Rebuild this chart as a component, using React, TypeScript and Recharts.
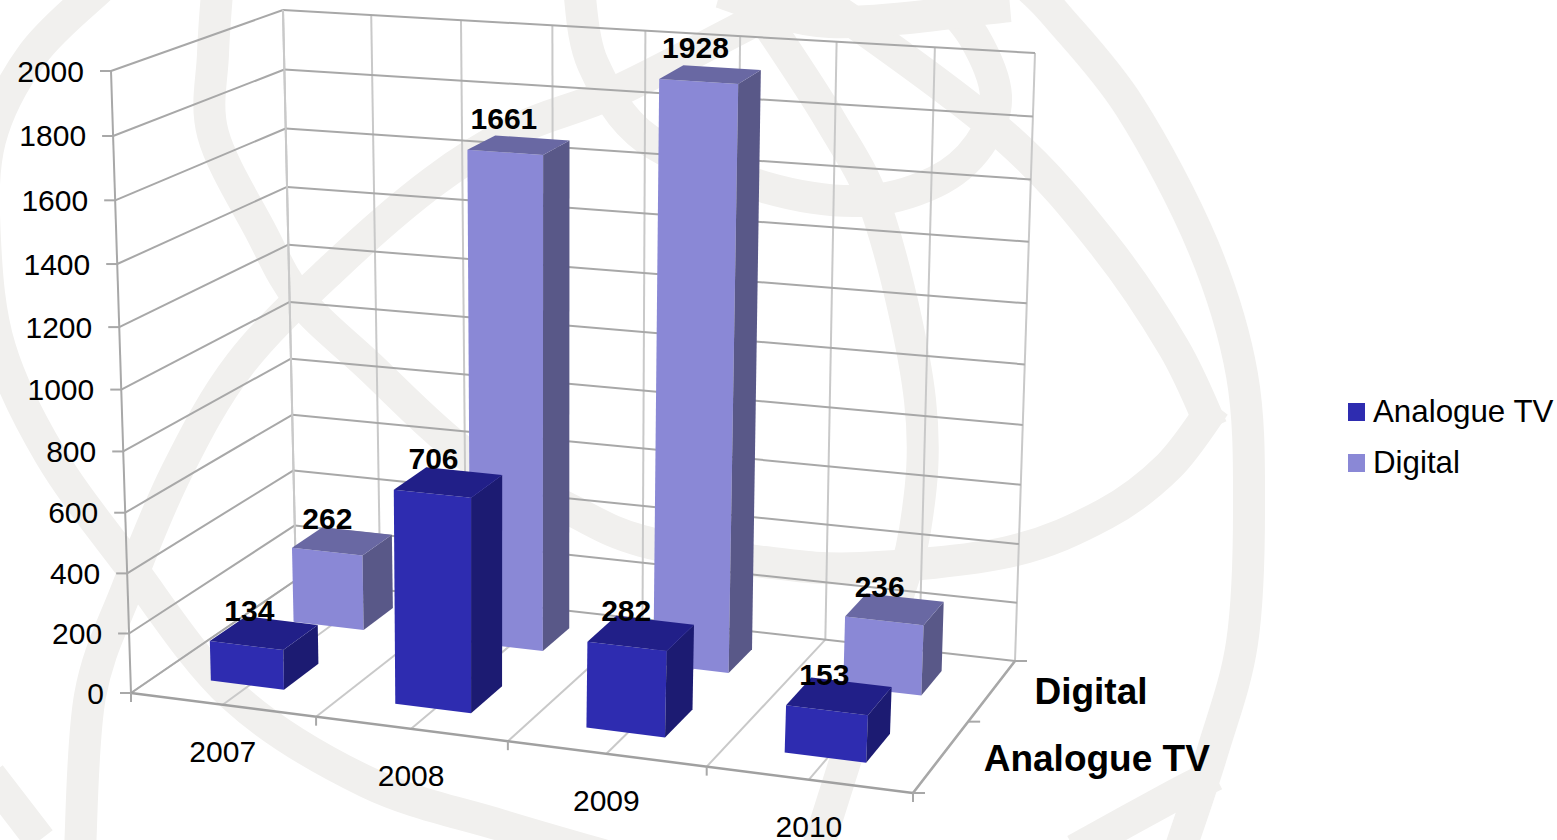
import { BarChart, Bar, XAxis, YAxis, Legend, Customized } from "recharts";

const YEARS = ["2007", "2008", "2009", "2010"];
const ANALOGUE = [134, 706, 282, 153];
const DIGITAL = [262, 1661, 1928, 236];
const Y_TICKS = [0, 200, 400, 600, 800, 1000, 1200, 1400, 1600, 1800, 2000];
const Y_MAX = 2000;

const rows = YEARS.map((year, i) => ({ year, analogue: ANALOGUE[i], digital: DIGITAL[i] }));

const W = 1557;
const H = 840;
const FONT = "'Liberation Sans', Arial, sans-serif";

// corners of the 3D box on screen: front-left, front-right, back-left, back-right
const FLOOR = [[131, 693], [913, 793], [296, 580], [1015, 661]];
const ROOF = [[111, 71], [943, 130], [283, 10], [1035, 53]];

const warp = (t: number, c: number) => t / (t + c * (1 - t));

// u = along the years, v = up the value axis, w = into the depth
function project(u: number, v: number, w: number): [number, number] {
  const su = warp(u, 1.075);
  const sv = warp(v, 1.05);
  const sw = warp(w, 0.85);
  const plane = (q: number[][], k: number) =>
    (q[0][k] * (1 - su) + q[1][k] * su) * (1 - sw) + (q[2][k] * (1 - su) + q[3][k] * su) * sw;
  return [
    plane(FLOOR, 0) * (1 - sv) + plane(ROOF, 0) * sv,
    plane(FLOOR, 1) * (1 - sv) + plane(ROOF, 1) * sv,
  ];
}

const poly = (pts: [number, number][]) => pts.map((p) => p.join(",")).join(" ");

function Seg({ a, b, color, sw = 2 }: any) {
  return <line x1={a[0]} y1={a[1]} x2={b[0]} y2={b[1]} stroke={color} strokeWidth={sw} />;
}

function Walls() {
  const divisions = Array.from({ length: YEARS.length * 2 + 1 }, (_, i) => i / (YEARS.length * 2));
  const grey = "#a8a8a8";
  const light = "#c9c9c9";
  return (
    <g>
      {divisions.map((u) => (
        <g key={u}>
          <Seg a={project(u, 0, 0)} b={project(u, 0, 1)} color={light} />
          <Seg a={project(u, 0, 1)} b={project(u, 1, 1)} color={light} />
        </g>
      ))}
      {Y_TICKS.map((t) => {
        const v = t / Y_MAX;
        return (
          <g key={t}>
            <Seg a={project(0, v, 0)} b={project(0, v, 1)} color={grey} />
            <Seg a={project(0, v, 1)} b={project(1, v, 1)} color={grey} />
          </g>
        );
      })}
      <Seg a={project(0, 0, 0)} b={project(0, 1, 0)} color={grey} />
      <Seg a={project(0, 0, 1)} b={project(0, 1, 1)} color={light} />
      <Seg a={project(0, 0, 0)} b={project(1, 0, 0)} color="#a0a0a0" sw={2.5} />
      <Seg a={project(1, 0, 0)} b={project(1, 0, 1)} color="#a8a8a8" sw={2.5} />
      {[0, 0.25, 0.5, 0.75, 1].map((u) => {
        const p = project(u, 0, 0);
        return <Seg key={u} a={p} b={[p[0], p[1] + 9]} color={grey} />;
      })}
      {[0, 0.5, 1].map((w) => {
        const p = project(1, 0, w);
        return <Seg key={w} a={p} b={[p[0] + 12, p[1]]} color={grey} />;
      })}
      <text x={project(1, 0, 0.75)[0] + 42} y={project(1, 0, 0.75)[1] + 1} dominantBaseline="central"
        fontFamily={FONT} fontWeight="bold" fontSize={37} fill="#000">Digital</text>
      <text x={project(1, 0, 0.25)[0] + 42} y={project(1, 0, 0.25)[1] + 3} dominantBaseline="central"
        fontFamily={FONT} fontWeight="bold" fontSize={37} fill="#000">Analogue TV</text>
    </g>
  );
}

function YTick({ y, payload }: any) {
  const v = 1 - y / H;
  const p = project(0, v, 0);
  return (
    <g>
      <line x1={p[0] - 11} y1={p[1]} x2={p[0]} y2={p[1]} stroke="#a8a8a8" strokeWidth={2} />
      <text x={p[0] - 27} y={p[1]} textAnchor="end" dominantBaseline="central" fontFamily={FONT} fontSize={30} fill="#000">
        {payload.value}
      </text>
    </g>
  );
}

function XTick({ x, payload }: any) {
  const p = project(x / W, 0, 0);
  return (
    <text x={p[0]} y={p[1] + 47} textAnchor="middle" dominantBaseline="central" fontFamily={FONT} fontSize={30} fill="#000">
      {payload.value}
    </text>
  );
}

// one 3D column, w0..w1 is the slice of the depth axis the series sits in
const makeBox = (w0: number, w1: number, topColor: string, sideColor: string) => (props: any) => {
  const { x, y, width, fill, value } = props;
  const u0 = x / W - 0.003;
  const u1 = (x + width) / W - 0.003;
  const v = 1 - y / H;
  const top = [project(u0, v, w0), project(u1, v, w0), project(u1, v, w1), project(u0, v, w1)] as [number, number][];
  const lab = project((u0 + u1) / 2, v, (w0 + w1) / 2);
  return (
    <g>
      <polygon fill={fill} points={poly([project(u0, 0, w0), project(u1, 0, w0), top[1], top[0]])} />
      <polygon fill={sideColor} points={poly([project(u1, 0, w0), project(u1, 0, w1), top[2], top[1]])} />
      <polygon fill={topColor} points={poly(top)} />
      <text x={lab[0] - 15} y={lab[1] - 21.5 - 6 * v} textAnchor="middle" dominantBaseline="central"
        fontFamily={FONT} fontWeight="bold" fontSize={30} fill="#000">
        {value}
      </text>
    </g>
  );
};

function LegendBox({ payload }: any) {
  const items = [...(payload ?? [])].sort((a: any, b: any) => (a.value < b.value ? -1 : 1));
  return (
    <div style={{ position: "absolute", left: 1348, top: 386, fontFamily: FONT, fontSize: 31.3, color: "#000", whiteSpace: "nowrap" }}>
      {items.map((it: any) => (
        <div key={it.value} style={{ display: "flex", alignItems: "center", height: 51 }}>
          <span style={{ width: 17, height: 18, background: it.color, marginRight: 8 }} />
          {it.value}
        </div>
      ))}
    </div>
  );
}

// smooth curve through a hand traced run of points, only for the faint backdrop
function smooth(pts: number[][]) {
  let d = `M ${pts[0][0]} ${pts[0][1]}`;
  for (let i = 0; i < pts.length - 1; i++) {
    const p0 = pts[Math.max(i - 1, 0)];
    const p1 = pts[i];
    const p2 = pts[i + 1];
    const p3 = pts[Math.min(i + 2, pts.length - 1)];
    d += ` C ${p1[0] + (p2[0] - p0[0]) / 6} ${p1[1] + (p2[1] - p0[1]) / 6} ${p2[0] - (p3[0] - p1[0]) / 6} ${p2[1] - (p3[1] - p1[1]) / 6} ${p2[0]} ${p2[1]}`;
  }
  return d;
}

const BANDS = [
  [[218, -20], [213, 54], [213, 134], [260, 230], [300, 300], [367, 364], [467, 455], [569, 509], [642, 541], [764, 562], [861, 568], [1008, 552], [1105, 514], [1169, 466], [1215, 405]],
  [[80, 850], [90, 696], [127, 589], [177, 471], [240, 364], [333, 268], [433, 182], [520, 128], [617, 91], [764, 16], [830, -15]],
  [[100, -12], [33, 54], [-10, 140], [-15, 240], [0, 348], [50, 455], [127, 562], [233, 696], [367, 782], [500, 825], [620, 860]],
  [[-10, 775], [40, 840]],
  [[579, -10], [593, 64], [647, 139], [764, 187], [861, 201], [935, 182], [979, 145], [996, 96], [974, 37], [935, -10]],
  [[745, -10], [830, 120], [880, 220], [920, 400], [915, 530], [880, 650], [817, 850]],
  [[1030, -12], [1057, 16], [1130, 107], [1203, 246], [1242, 375], [1249, 509], [1242, 643], [1213, 750], [1180, 850]],
  [[790, -15], [852, 21], [1008, 139], [1105, 246], [1174, 348], [1212, 428]],
  [[720, -8], [830, 22], [1010, 6]],
  [[1075, 850], [1175, 795], [1215, 775]],
];

function Watermark() {
  return (
    <svg width={W} height={H} style={{ position: "absolute", left: 0, top: 0 }}>
      <g fill="none" stroke="#f1f0ee" strokeWidth={32}>
        {BANDS.map((b, i) => (
          <path key={i} d={smooth(b)} />
        ))}
      </g>
    </svg>
  );
}

export default function App() {
  return (
    <div style={{ position: "absolute", left: 0, top: 0, width: W, height: H, background: "#fff", overflow: "hidden" }}>
      <Watermark />
      <BarChart
        width={W}
        height={H}
        data={rows}
        margin={{ top: 0, right: 0, bottom: -1, left: -1 }}
        barSize={156}
        barGap={-156}
        style={{ position: "absolute", left: 0, top: 0 }}
      >
        <Customized component={Walls} />
        <XAxis dataKey="year" height={1} axisLine={false} tickLine={false} tick={XTick} interval={0} />
        <YAxis width={1} domain={[0, Y_MAX]} ticks={Y_TICKS} axisLine={false} tickLine={false} tick={YTick} interval={0} />
        <Bar dataKey="digital" name="Digital" fill="#8a88d6" isAnimationActive={false}
          shape={makeBox(0.647, 0.853, "#6968a3", "#595888")} />
        <Bar dataKey="analogue" name="Analogue TV" fill="#2e2cb0" isAnimationActive={false}
          shape={makeBox(0.147, 0.353, "#211f88", "#1c1b72")} />
        <Legend content={LegendBox} wrapperStyle={{ left: 0, top: 0, width: 0, height: 0 }} />
      </BarChart>
    </div>
  );
}
